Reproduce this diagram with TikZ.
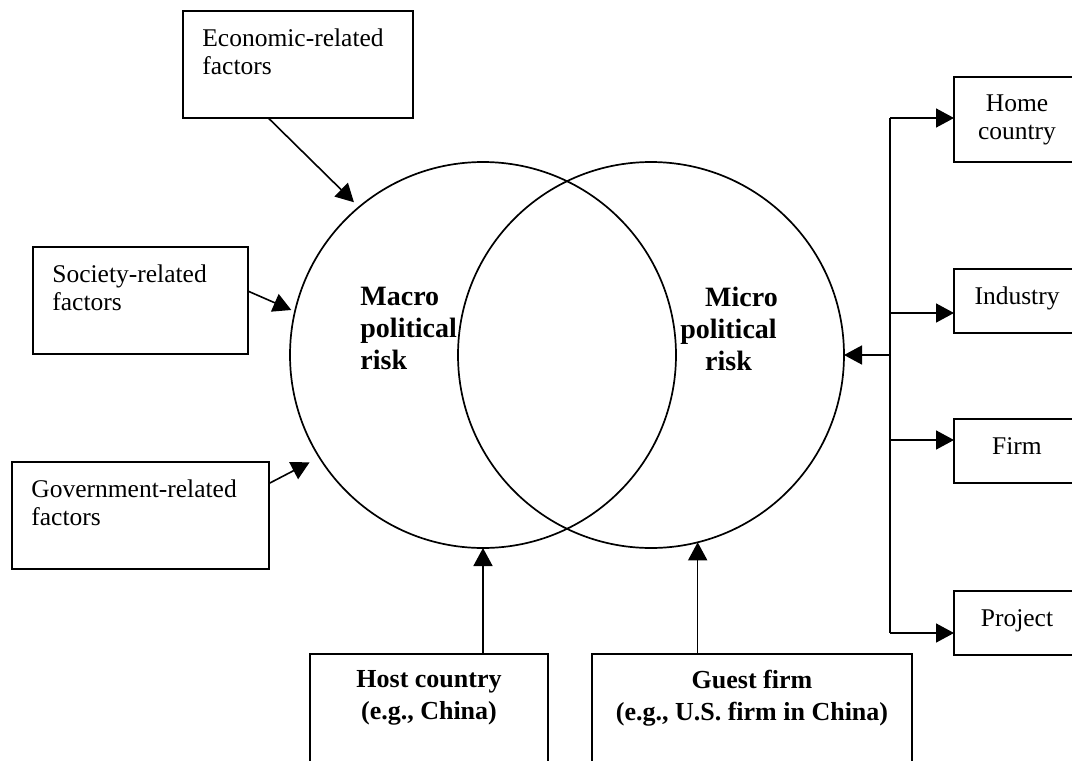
\documentclass[tikz,border=0pt]{standalone}
\usepackage{fontspec}
\setmainfont{Liberation Serif}
\usetikzlibrary{arrows.meta,positioning}

\tikzset{
  fbox/.style={draw, line width=1pt, inner sep=0pt, outer sep=0pt},
  ltxt/.style={anchor=north west, align=left, inner sep=0pt, xshift=9.5pt, yshift=-8.5pt,
    font=\fontsize{12.75pt}{14pt}\selectfont},
  rbox/.style={fbox, minimum width=63pt, align=center, font=\fontsize{12.75pt}{14pt}\selectfont},
  rtxt/.style={rbox, minimum height=32pt, text height=8.9pt, text depth=5.7pt},
  btxt/.style={anchor=north, align=center, inner sep=0pt, yshift=-8pt,
    font=\fontsize{13pt}{16pt}\selectfont\bfseries},
  risk/.style={circle, draw, line width=0.85pt, minimum size=193pt, inner sep=0pt, outer sep=0pt},
  risktxt/.style={inner sep=0pt, font=\fontsize{14pt}{16pt}\selectfont\bfseries},
  arr/.style={line width=0.8pt, -{Triangle[length=9pt, width=9.5pt]}},
}

\begin{document}
\begin{tikzpicture}[x=0.5pt, y=-0.5pt]
    \useasboundingbox (0,0) rectangle (1072,761);
    \clip (0,0) rectangle (1072,761);

    % the two risks
    \node[risk] (macro) at (483,355) {};
    \node[risk] (micro) at (651,355) {};
    \node[risktxt, align=left, anchor=north west] (macrotxt) at (360,287) {Macro\\political\\risk};
    \node[risktxt, align=center, anchor=north] (microtxt) at (728.5,287) {\hspace*{13pt}Micro\\political\\risk};

    % factors on the left
    \node[fbox, minimum width=115pt, minimum height=53.5pt,
      label={[ltxt]north west:{Economic-related\\factors}}] (econ) at (298,64.5) {};
    \node[fbox, minimum width=107.5pt, minimum height=53.5pt,
      label={[ltxt]north west:{Society-related\\factors}}] (soc) at (140.5,300.5) {};
    \node[fbox, minimum width=128.5pt, minimum height=53.5pt,
      label={[ltxt]north west:{Government-related\\factors}}] (gov) at (140.5,515.5) {};

    \draw[arr, shorten >=3.5pt] (econ.241.5) -- (macro.130);
    \draw[arr, shorten >=2pt] (soc.5) -- (macro.167);
    \draw[arr, shorten >=5.5pt] (gov.14.6) -- (macro.212);

    % host and guest
    \node[fbox, minimum width=119pt, minimum height=63pt,
      label={[btxt]north:{Host country\\(e.g., China)}}] (host) at (429,717) {};
    \node[fbox, minimum width=160pt, minimum height=63pt,
      label={[btxt]north:{Guest firm\\(e.g., U.S. firm in China)}}] (guest) at (752,717) {};

    \draw[arr] (host.north -| macro.south) -- (macro.south);
    \draw[arr] (guest.north -| micro.-76) -- (micro.-76);

    % levels on the right
    \node[rbox, minimum height=42.5pt] (home) at (1017,119.5) {Home\\country};
    \node[rtxt] (ind) at (1017,301) {Industry};
    \node[rtxt] (firm) at (1017,451) {Firm};
    \node[rtxt] (proj) at (1017,623) {Project};

    \coordinate (bHome) at (890,118);
    \coordinate (bInd) at (890,313);
    \coordinate (bMic) at (890,355);
    \coordinate (bFirm) at (890,440);
    \coordinate (bProj) at (890,633);

    \draw[line width=0.8pt] (bHome) -- (bProj);
    \draw[arr] (bHome) -- (bHome -| home.west);
    \draw[arr] (bInd) -- (bInd -| ind.west);
    \draw[arr] (bFirm) -- (bFirm -| firm.west);
    \draw[arr] (bProj) -- (bProj -| proj.west);
    \draw[arr] (bMic) -- (micro.east);
\end{tikzpicture}
\end{document}
